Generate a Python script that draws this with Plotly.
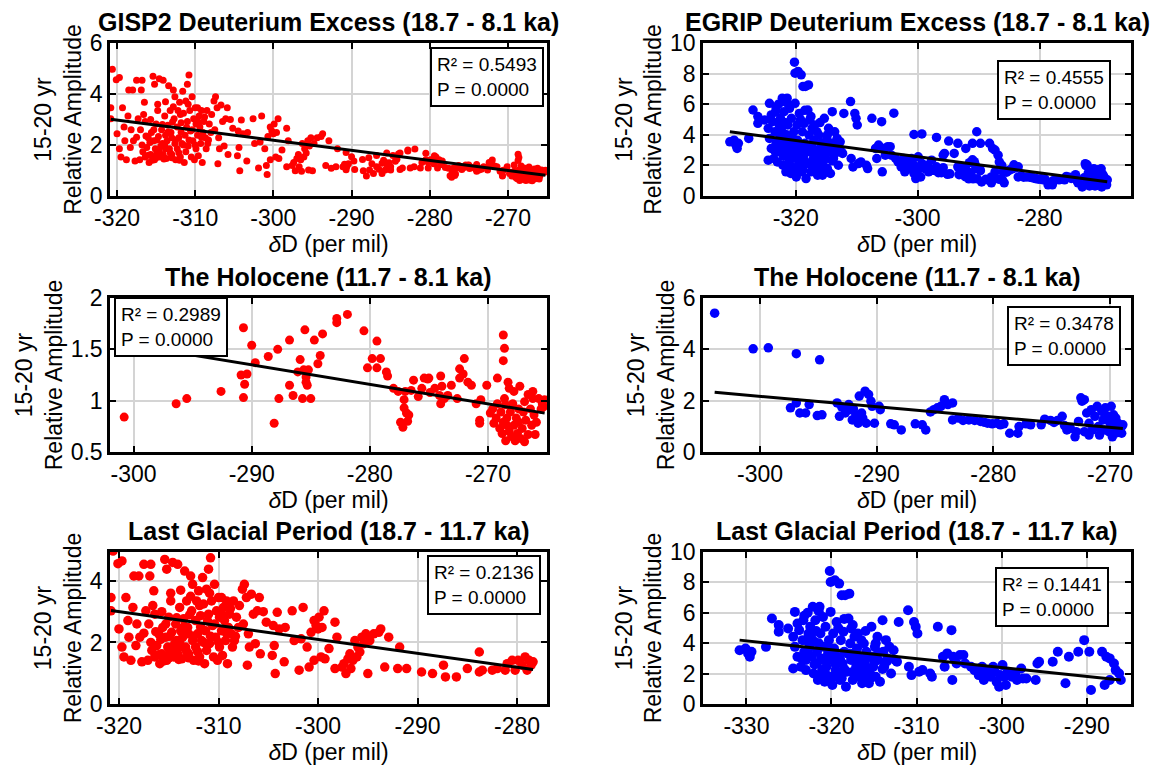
import plotly.graph_objects as go

# ---------------- DATA ----------------
# GISP2, Holocene (11.7 - 8.1 ka): dD (per mil) and 15-20 yr relative amplitude
gisp2_hol_x = [-300.8, -296.4, -295.5, -292.6, -290.7, -290.9, -290.4, -290.6, -290.7, -290.0,
               -289.7, -288.6, -288.1, -287.8, -287.7, -286.8, -286.8, -286.5, -285.9, -286.1,
               -285.6, -285.4, -285.5, -285.7, -285.3, -285.0, -285.2, -285.4, -284.7, -284.4,
               -284.2, -284.0, -282.8, -282.8, -281.9, -280.5, -280.2, -279.8, -279.4, -279.4,
               -279.1, -278.6, -278.5, -278.0, -277.6, -277.4, -277.2, -277.1, -277.1, -277.0,
               -276.9, -276.8, -276.7, -276.5, -276.3, -275.9, -275.6, -275.4, -275.1, -275.0,
               -274.9, -274.5, -274.1, -274.0, -274.0, -273.9, -273.7, -273.4, -273.1, -272.6,
               -272.4, -272.4, -272.1, -272.0, -271.7, -271.4, -271.0, -270.7, -270.6, -270.7,
               -270.1, -269.8, -269.6, -269.5, -269.3, -269.2, -269.2, -269.0, -268.9, -268.8,
               -268.7, -268.7, -268.6, -268.7, -268.6, -268.5, -268.5, -268.4, -268.4, -268.3,
               -268.2, -268.2, -268.1, -268.0, -267.9, -267.8, -267.8, -267.7, -267.6, -267.5,
               -267.4, -267.4, -267.3, -267.2, -267.1, -267.0, -266.9, -266.9, -266.8, -266.6,
               -266.6, -266.4, -266.3, -266.2, -266.2, -266.1, -266.0, -265.9, -265.7, -265.5,
               -265.4, -265.3, -265.2]
gisp2_hol_y = [0.84, 0.97, 1.02, 1.09, 1.71, 1.25, 1.26, 1.16, 1.03, 1.54,
               1.37, 1.43, 0.78, 1.50, 1.02, 1.59, 1.15, 1.05, 1.40, 1.28,
               1.30, 1.23, 1.69, 1.02, 1.15, 1.02, 1.30, 1.18, 1.59, 1.36,
               1.44, 1.65, 1.76, 1.80, 1.84, 1.68, 1.32, 1.41, 1.58, 1.32,
               1.41, 1.28, 1.24, 1.12, 1.09, 0.79, 0.74, 1.01, 0.93, 1.09,
               0.88, 0.80, 0.86, 1.10, 1.20, 1.04, 1.12, 1.22, 1.21, 1.22,
               1.08, 1.12, 1.05, 1.24, 0.97, 1.14, 1.02, 1.05, 1.15, 1.02,
               1.22, 1.31, 1.26, 1.41, 1.18, 1.15, 0.97, 0.81, 1.01, 0.78,
               1.15, 0.88, 0.92, 0.78, 0.83, 1.22, 0.97, 0.73, 0.89, 0.68,
               0.79, 1.64, 1.51, 1.39, 1.02, 0.96, 0.61, 0.76, 0.83, 1.18,
               1.12, 0.70, 0.89, 0.65, 0.97, 0.76, 1.09, 0.61, 0.83, 0.68,
               0.92, 0.79, 1.14, 0.63, 0.73, 0.89, 0.99, 0.60, 0.81, 1.06,
               0.67, 0.92, 0.76, 1.02, 1.09, 0.86, 0.67, 0.79, 1.02, 0.92,
               0.97, 0.94, 1.01]

# GISP2, Last Glacial Period (18.7 - 11.7 ka)
gisp2_lgp_x = [-320.8, -320.8, -320.6, -320.1, -319.7, -320.0, -319.7, -319.5, -319.3, -319.1,
               -319.0, -318.8, -318.6, -318.5, -318.0, -318.2, -317.9, -317.7, -317.5, -317.3,
               -317.1, -316.9, -316.8, -316.7, -316.5, -316.4, -316.4, -316.2, -316.0, -315.9,
               -315.7, -315.6, -315.5, -315.4, -315.3, -315.2, -315.2, -315.1, -315.0, -314.9,
               -314.8, -314.7, -314.6, -314.5, -314.4, -314.3, -314.2, -314.1, -314.1, -313.9,
               -313.8, -313.8, -313.7, -313.6, -313.5, -313.4, -313.3, -313.2, -313.1, -313.0,
               -313.0, -312.8, -312.7, -312.6, -312.6, -312.5, -312.3, -312.3, -312.2, -312.1,
               -312.0, -311.9, -311.8, -311.7, -311.6, -311.5, -311.4, -311.3, -311.2, -311.2,
               -311.0, -311.0, -310.9, -310.8, -310.7, -310.6, -310.5, -310.4, -310.3, -310.2,
               -310.1, -310.0, -309.9, -309.9, -309.7, -309.7, -309.6, -309.5, -309.4, -309.3,
               -309.2, -309.1, -309.0, -308.9, -308.7, -308.6, -308.5, -308.4, -308.2, -308.0,
               -307.6, -307.4, -307.2, -307.1, -307.0, -306.9, -306.7, -306.5, -306.3, -306.1,
               -305.9, -305.8, -305.5, -305.2, -304.6, -304.5, -304.4, -304.3, -304.1, -303.9,
               -303.4, -303.3, -302.6, -302.4, -301.9, -301.7, -301.5, -301.1, -300.9, -300.7,
               -300.4, -300.4, -300.2, -300.0, -299.9, -299.7, -299.6, -299.4, -299.3, -298.9,
               -298.3, -298.1, -298.3, -297.6, -297.4, -297.2, -297.0, -296.8, -296.7, -296.5,
               -296.3, -296.1, -296.0, -295.8, -295.6, -295.4, -295.2, -295.0, -294.8, -294.4,
               -293.9, -293.7, -293.3, -292.9, -292.0, -291.8, -291.1, -289.6, -288.5, -287.4,
               -287.2, -286.1, -285.0, -283.8, -283.8, -283.5, -282.5, -282.0, -281.2, -281.0,
               -280.5, -280.2, -279.9, -279.5, -279.2, -279.0, -278.8, -278.6, -278.4,
               -316.8, -316.3, -315.8, -315.3, -314.9, -314.6, -314.2, -313.9, -313.5, -313.2,
               -312.9, -312.5, -312.1, -311.8, -311.5, -311.1, -310.8, -310.4, -310.0, -309.6,
               -309.2, -308.8, -308.3, -307.9, -307.5, -316.0, -315.0, -314.0, -313.0, -312.0,
               -317.5, -318.3, -317.0, -316.6, -315.7, -314.8, -313.8, -312.8, -311.9, -310.9]
gisp2_lgp_y = [3.46, 3.03, 4.97, 4.56, 4.65, 2.44, 1.85, 1.53, 3.46, 2.71,
               2.17, 1.42, 3.14, 4.16, 4.16, 2.60, 2.17, 1.37, 4.54, 3.03,
               1.42, 4.16, 4.54, 1.74, 3.68, 2.92, 1.53, 1.90, 2.28, 1.31,
               1.63, 2.49, 1.40, 4.70, 2.17, 4.38, 1.42, 1.85, 2.82, 1.69,
               3.35, 2.33, 4.60, 1.53, 1.96, 2.60, 2.06, 4.54, 1.63, 3.14,
               2.38, 1.85, 1.47, 2.17, 2.77, 4.32, 1.85, 3.35, 2.49, 1.63,
               2.28, 4.16, 3.03, 2.06, 3.89, 1.42, 2.71, 1.85, 3.35, 2.28,
               3.68, 1.53, 2.87, 2.06, 4.11, 3.25, 1.31, 2.38, 1.74, 3.73,
               4.38, 2.92, 1.96, 4.75, 3.35, 2.55, 1.53, 3.89, 2.17, 3.03,
               1.42, 3.46, 1.85, 2.82, 2.38, 3.46, 1.58, 3.14, 2.71, 2.06,
               3.35, 1.31, 2.49, 2.92, 2.28, 1.85, 3.35, 2.06, 2.82, 2.49,
               3.73, 3.89, 3.46, 1.26, 2.28, 1.85, 3.57, 2.92, 1.96, 3.03,
               3.46, 1.63, 3.00, 2.66, 1.58, 2.55, 1.90, 0.99, 2.98, 2.44,
               1.37, 2.49, 3.03, 2.06, 1.10, 2.12, 3.14, 1.85, 1.20, 2.33,
               2.71, 1.42, 2.55, 2.44, 2.82, 1.53, 2.49, 3.03, 1.47, 1.80,
               2.66, 2.17, 1.15, 1.20, 1.31, 0.99, 1.47, 1.63, 1.15, 1.42,
               2.06, 1.53, 1.85, 1.69, 2.17, 1.96, 2.28, 0.99, 2.06, 2.28,
               2.33, 2.44, 1.20, 2.17, 1.15, 1.85, 1.15, 1.04, 0.99, 1.26,
               0.88, 0.88, 1.15, 1.69, 1.04, 1.10, 1.10, 1.15, 1.10, 1.31,
               1.42, 1.10, 1.42, 1.26, 1.53, 1.10, 1.42, 1.26, 1.37,
               2.00, 2.35, 2.10, 2.60, 2.20, 1.80, 2.80, 2.00, 2.50, 1.70,
               2.90, 2.20, 1.70, 2.50, 2.00, 2.70, 2.20, 2.60, 2.00, 2.90,
               2.30, 3.10, 2.20, 3.20, 2.60, 1.60, 1.50, 1.45, 1.50, 1.40,
               2.30, 1.90, 2.60, 3.20, 3.00, 3.60, 3.70, 3.50, 3.20, 3.60]

# EGRIP, Holocene (11.7 - 8.1 ka)
egrip_hol_x = [-303.9, -300.6, -299.3, -296.9, -294.9, -297.4, -296.9, -296.6, -296.1, -295.8,
               -295.1, -294.7, -293.4, -293.2, -293.0, -292.7, -292.4, -292.3, -292.1, -292.0,
               -291.8, -291.6, -291.5, -291.3, -291.2, -291.0, -290.9, -290.7, -290.5, -290.4,
               -290.2, -289.8, -289.7, -288.8, -288.5, -287.9, -286.7, -286.1, -285.8, -285.4,
               -285.1, -284.8, -284.5, -284.2, -283.9, -283.5, -283.5, -283.0, -282.6, -282.1,
               -281.6, -281.1, -280.8, -280.5, -280.1, -279.7, -279.4, -279.1, -278.6, -277.9,
               -277.8, -277.2, -276.8, -275.9, -275.6, -275.1, -274.8, -274.5, -274.1, -273.9,
               -273.7, -273.4, -273.0, -272.9, -272.7, -272.5, -272.4, -272.2, -272.2, -272.0,
               -271.8, -271.8, -271.6, -271.5, -271.3, -271.1, -271.0, -270.9, -270.7, -270.6,
               -270.5, -270.4, -270.2, -270.1, -270.0, -269.9, -269.8, -269.7, -269.6, -269.5,
               -269.4, -269.3, -269.2, -269.0, -269.0, -268.9]
egrip_hol_y = [5.41, 4.02, 4.06, 3.83, 3.59, 1.72, 1.91, 1.52, 1.52, 1.85,
               1.42, 1.45, 1.91, 1.39, 1.75, 1.52, 1.85, 1.65, 1.25, 1.68,
               1.45, 1.12, 2.18, 1.52, 1.32, 2.37, 1.12, 2.24, 1.98, 1.78,
               1.12, 1.78, 1.65, 1.10, 1.06, 0.86, 1.10, 1.06, 0.86, 1.56,
               1.65, 1.72, 1.78, 2.04, 1.85, 1.91, 1.25, 1.32, 1.23, 1.25,
               1.23, 1.19, 1.16, 1.12, 1.10, 1.12, 1.06, 1.10, 0.73, 0.73,
               0.99, 1.10, 1.06, 1.06, 1.28, 1.23, 1.15, 1.23, 1.39, 1.03,
               0.86, 0.92, 0.59, 0.79, 1.19, 2.11, 1.98, 2.04, 0.79, 1.52,
               0.66, 1.12, 1.65, 0.86, 1.39, 1.78, 0.99, 0.66, 1.58, 1.25,
               0.86, 1.72, 1.39, 0.79, 1.12, 1.78, 0.59, 1.45, 0.99, 1.32,
               0.75, 1.12, 0.92, 0.99, 0.73, 1.06]

# EGRIP, Last Glacial Period (18.7 - 11.7 ka)
egrip_lgp_x = [-330.8, -330.1, -329.8, -329.6, -329.4, -327.7, -327.0, -326.2, -326.2, -325.1,
               -324.5, -324.3, -324.3, -324.5, -324.0, -323.8, -323.6, -323.4, -323.3, -323.2,
               -323.0, -323.0, -322.7, -322.6, -322.5, -322.3, -322.2, -322.1, -322.0, -321.9,
               -321.7, -321.7, -321.6, -321.4, -321.3, -321.2, -321.1, -321.0, -320.9, -320.8,
               -320.7, -320.6, -320.4, -320.3, -320.3, -320.2, -320.1, -320.1, -320.0, -319.9,
               -319.8, -319.7, -319.6, -319.5, -319.4, -319.3, -319.1, -319.0, -318.9, -318.8,
               -318.7, -318.6, -318.5, -318.4, -318.3, -318.2, -318.0, -317.9, -317.8, -317.7,
               -317.7, -317.5, -317.4, -317.3, -317.1, -317.0, -316.9, -316.8, -316.7, -316.5,
               -316.4, -316.2, -316.1, -315.9, -315.8, -315.6, -315.3, -315.2, -315.1, -314.9,
               -314.8, -314.6, -314.5, -314.3, -314.0, -313.9, -313.8, -313.6, -313.4, -313.2,
               -313.0, -312.7, -312.5, -312.3, -312.1, -311.0, -310.9, -310.6, -310.3, -310.1,
               -309.9, -309.7, -309.3, -308.4, -308.2, -307.5, -306.9, -306.7, -306.4, -305.9,
               -305.8, -305.7, -305.3, -304.9, -304.5, -304.3, -303.6, -303.2, -302.7, -302.3,
               -302.1, -301.9, -301.6, -301.3, -301.0, -300.8, -300.6, -300.3, -300.2, -299.9,
               -299.7, -299.5, -299.3, -298.8, -298.4, -298.2, -297.7, -297.5, -297.1, -296.0,
               -295.8, -295.6, -294.0, -293.4, -292.5, -292.1, -291.0, -290.3, -289.7, -289.5,
               -288.2, -287.9, -287.7, -287.3, -287.3, -286.8, -286.6, -286.2, -286.0,
               -323.5, -322.8, -322.0, -321.5, -320.8, -320.5, -320.0, -319.5, -319.0, -318.5,
               -318.0, -317.5, -317.0, -316.5, -316.0, -315.5, -315.0, -314.5, -314.0, -313.5,
               -323.0, -322.4, -321.8, -321.2, -320.6, -319.8, -319.2, -318.8, -317.2, -316.3,
               -315.4, -324.0, -323.2, -322.8, -321.5, -319.2, -318.5, -317.5, -316.0, -314.8]
egrip_lgp_y = [3.54, 3.65, 3.33, 3.11, 3.44, 3.76, 5.62, 5.19, 4.75, 4.97,
               4.42, 6.06, 3.76, 2.34, 3.11, 4.86, 2.45, 4.20, 5.51, 3.44,
               2.89, 2.23, 4.64, 3.76, 5.08, 3.11, 6.39, 2.01, 4.09, 5.51,
               2.67, 3.44, 1.58, 6.39, 4.64, 3.00, 2.23, 5.73, 3.76, 1.47,
               5.08, 2.45, 3.33, 4.20, 1.79, 8.75, 8.03, 6.06, 2.89, 1.25,
               4.64, 3.65, 8.14, 2.23, 5.40, 3.11, 7.92, 1.58, 4.20, 7.16,
               2.67, 4.75, 3.44, 7.16, 1.14, 2.12, 5.62, 7.26, 3.98, 2.89,
               4.97, 1.58, 3.33, 4.42, 2.45, 3.65, 4.64, 1.79, 3.00, 4.20,
               1.36, 3.98, 2.67, 3.44, 2.01, 1.36, 5.08, 3.11, 2.45, 3.76,
               1.79, 4.42, 2.89, 1.47, 5.51, 3.44, 2.45, 4.20, 3.00, 3.76,
               2.01, 3.54, 2.89, 2.78, 5.40, 6.17, 2.45, 1.90, 5.40, 5.08,
               4.64, 2.12, 2.23, 2.01, 1.79, 5.08, 3.11, 2.45, 3.33, 4.86,
               1.58, 3.11, 2.67, 3.22, 3.22, 2.67, 2.45, 2.23, 1.90, 2.45,
               1.58, 2.01, 2.23, 1.79, 2.45, 2.12, 1.47, 1.14, 1.90, 2.56,
               1.79, 1.25, 2.12, 1.79, 2.01, 1.58, 2.34, 1.68, 1.68, 1.58,
               2.67, 2.78, 2.78, 3.44, 1.36, 3.11, 3.44, 4.20, 3.44, 0.92,
               3.44, 1.25, 3.11, 3.00, 1.58, 2.67, 2.23, 2.01, 1.58,
               3.00, 3.50, 2.60, 4.00, 2.90, 3.80, 3.40, 2.60, 3.00, 2.30,
               3.30, 2.10, 2.90, 2.30, 3.00, 2.20, 2.80, 3.40, 2.30, 2.80,
               4.20, 4.40, 4.80, 2.00, 1.90, 1.80, 2.00, 1.70, 1.90, 1.80,
               1.70, 5.30, 5.80, 6.00, 6.10, 5.00, 5.60, 5.20, 4.80, 4.00]

# Panel titles, statistics and least-squares fit coefficients (y = b0 + b1*x)
titles = ["GISP2 Deuterium Excess (18.7 - 8.1 ka)", "EGRIP Deuterium Excess (18.7 - 8.1 ka)",
          "The Holocene (11.7 - 8.1 ka)", "The Holocene (11.7 - 8.1 ka)",
          "Last Glacial Period (18.7 - 11.7 ka)", "Last Glacial Period (18.7 - 11.7 ka)"]
r2_values = ["0.5493", "0.4555", "0.2989", "0.3478", "0.2136", "0.1441"]
p_values = ["0.0000", "0.0000", "0.0000", "0.0000", "0.0000", "0.0000"]
fit_b0 = [-9.69, -13.30, -4.147, -9.95, -11.46, -15.15]
fit_b1 = [-0.0396, -0.0529, -0.01895, -0.0404, -0.0452, -0.0585]

x_ranges = [[-320.9, -265.0], [-335.2, -265.0], [-302.0, -265.0],
            [-304.9, -268.2], [-320.9, -277.0], [-335.1, -284.8]]
y_ranges = [[0, 6], [0, 10], [0.5, 2], [0, 6], [0, 4.94], [0, 10]]
x_ticks = [[-320, -310, -300, -290, -280, -270], [-320, -300, -280],
           [-300, -290, -280, -270], [-300, -290, -280, -270],
           [-320, -310, -300, -290, -280], [-330, -320, -310, -300, -290]]
y_ticks = [[0, 2, 4, 6], [0, 2, 4, 6, 8, 10], [0.5, 1, 1.5, 2],
           [0, 2, 4, 6], [0, 2, 4], [0, 2, 4, 6, 8, 10]]

# ---------------- FIGURE ----------------
W, H = 1154, 770
FONT = "Liberation Sans, Arial, Helvetica, sans-serif"
RED, BLUE = "#ff0000", "#0000ff"


def fx(px):
    return px / W


def fy(py):
    return 1 - py / H


col_px = [(110, 547), (703, 1131)]
row_px = [(43, 196), (298, 452), (552, 704)]

datasets = [
    (gisp2_hol_x + gisp2_lgp_x, gisp2_hol_y + gisp2_lgp_y, RED, 7),
    (egrip_hol_x + egrip_lgp_x, egrip_hol_y + egrip_lgp_y, BLUE, 9.5),
    (gisp2_hol_x, gisp2_hol_y, RED, 9),
    (egrip_hol_x, egrip_hol_y, BLUE, 9.5),
    (gisp2_lgp_x, gisp2_lgp_y, RED, 9.5),
    (egrip_lgp_x, egrip_lgp_y, BLUE, 10),
]
# stats box top-left corners in pixels
box_px = [(430, 47), (997, 60), (114, 297), (1007, 306), (427, 555), (995, 567)]

fig = go.Figure()
layout = {}
annotations = []
for i, (xs, ys, color, msize) in enumerate(datasets):
    n = i + 1
    sfx = "" if n == 1 else str(n)
    xa, ya = "x" + sfx, "y" + sfx
    c0, c1 = col_px[i % 2]
    r0, r1 = row_px[i // 2]

    fig.add_trace(go.Scatter(
        x=xs, y=ys, mode="markers", xaxis=xa, yaxis=ya, showlegend=False,
        marker=dict(color=color, size=msize, line=dict(width=0)), hoverinfo="skip"))
    lx = [min(xs), max(xs)]
    ly = [fit_b0[i] + fit_b1[i] * v for v in lx]
    fig.add_trace(go.Scatter(
        x=lx, y=ly, mode="lines", xaxis=xa, yaxis=ya, showlegend=False,
        line=dict(color="black", width=3), hoverinfo="skip"))

    axis_common = dict(
        showline=True, linecolor="black", linewidth=2.5, mirror="ticks",
        ticks="inside", ticklen=6, tickwidth=2, tickcolor="black",
        showgrid=True, gridcolor="#d4d4d4", gridwidth=1.5, zeroline=False,
        tickfont=dict(size=23, color="black", family=FONT), automargin=False)

    layout["xaxis" + sfx] = dict(
        axis_common, domain=[fx(c0), fx(c1)], anchor=ya, range=x_ranges[i],
        tickmode="array", tickvals=x_ticks[i], ticktext=[str(t) for t in x_ticks[i]],
        title=dict(text="<i>δ</i>D (per mil)", font=dict(size=23, color="black", family=FONT),
                   standoff=1))
    layout["yaxis" + sfx] = dict(
        axis_common, domain=[fy(r1), fy(r0)], anchor=xa, range=y_ranges[i],
        tickmode="array", tickvals=y_ticks[i], ticktext=[str(t) for t in y_ticks[i]],
        title=dict(text="15-20 yr<br>Relative Amplitude",
                   font=dict(size=23, color="black", family=FONT), standoff=2))

    annotations.append(dict(
        xref="paper", yref="paper", x=fx((c0 + c1) / 2), y=fy(r0 - 21),
        xanchor="center", yanchor="middle", showarrow=False,
        text="<b>" + titles[i] + "</b>", font=dict(size=25, color="black", family=FONT)))

    bx, by = box_px[i]
    annotations.append(dict(
        xref="paper", yref="paper", x=fx(bx), y=fy(by), xanchor="left", yanchor="top",
        showarrow=False, align="left",
        text="R² = " + r2_values[i] + "<br>P = " + p_values[i],
        font=dict(size=19, color="black", family=FONT),
        bgcolor="white", bordercolor="black", borderwidth=2, borderpad=5))

fig.update_layout(
    width=W, height=H, margin=dict(l=0, r=0, t=0, b=0),
    paper_bgcolor="white", plot_bgcolor="white",
    font=dict(family=FONT, color="black"),
    annotations=annotations, **layout)

fig.write_html("out.html")
